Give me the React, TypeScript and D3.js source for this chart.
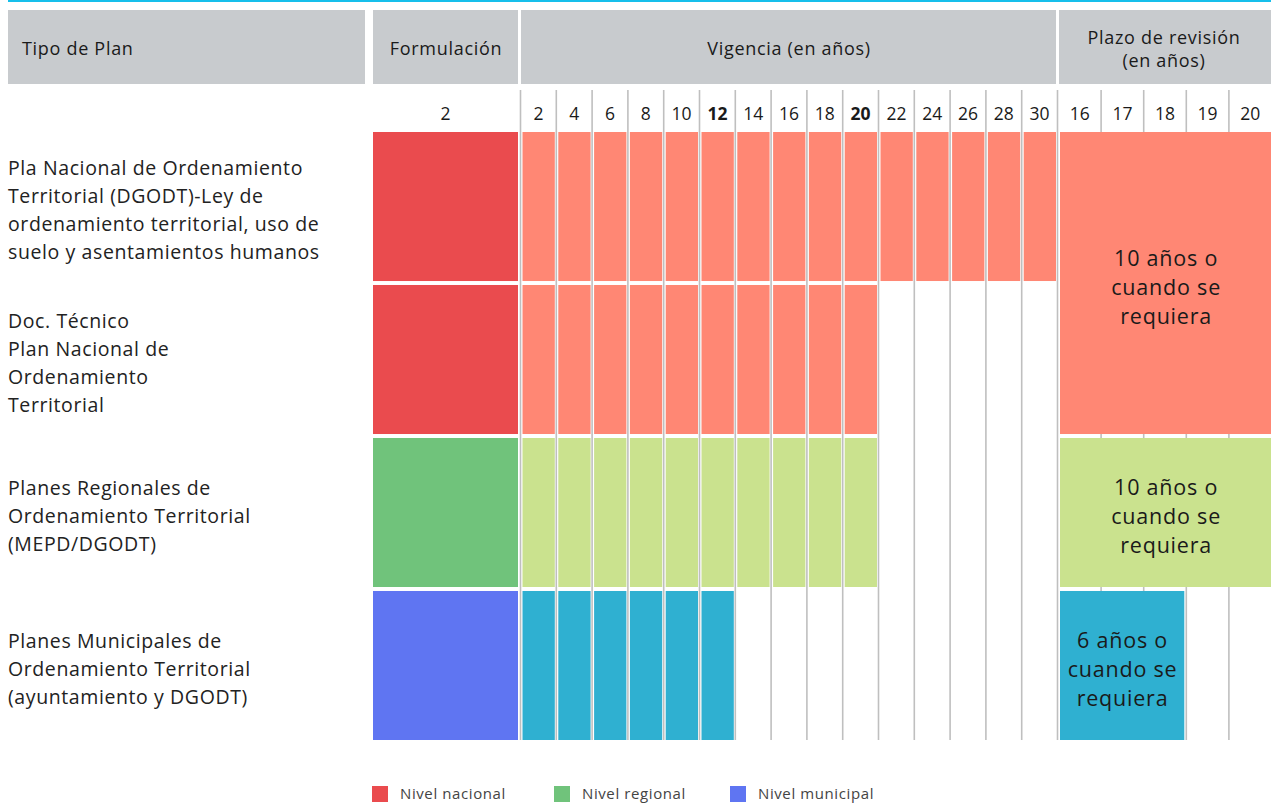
import React from 'react';
import * as d3 from 'd3';

// ---------- data ----------
const planLabels: string[][] = [
  ['Pla Nacional de Ordenamiento', 'Territorial (DGODT)-Ley de', 'ordenamiento territorial, uso de', 'suelo y asentamientos humanos'],
  ['Doc. Técnico', 'Plan Nacional de', 'Ordenamiento', 'Territorial'],
  ['Planes Regionales de', 'Ordenamiento Territorial', '(MEPD/DGODT)'],
  ['Planes Municipales de', 'Ordenamiento Territorial', '(ayuntamiento y DGODT)'],
];
const planLevels = ['nacional', 'nacional', 'regional', 'municipal'];
const formulacionYears = [2];
const vigenciaTicks = [2, 4, 6, 8, 10, 12, 14, 16, 18, 20, 22, 24, 26, 28, 30];
const vigenciaBold = [12, 20];
const vigenciaEnd = [30, 20, 20, 12];
const plazoTicks = [16, 17, 18, 19, 20];
const plazoGroups = [
  { rowFrom: 0, rowTo: 1, yearFrom: 16, yearTo: 20, level: 'nacional', text: ['10 años o', 'cuando se', 'requiera'] },
  { rowFrom: 2, rowTo: 2, yearFrom: 16, yearTo: 20, level: 'regional', text: ['10 años o', 'cuando se', 'requiera'] },
  { rowFrom: 3, rowTo: 3, yearFrom: 16, yearTo: 18, level: 'municipal', text: ['6 años o', 'cuando se', 'requiera'] },
];
const headers = ['Tipo de Plan', 'Formulación', 'Vigencia (en años)', 'Plazo de revisión|(en años)'];
const legendLevels = ['nacional', 'regional', 'municipal'];
const legendLabels = ['Nivel nacional', 'Nivel regional', 'Nivel municipal'];

// ---------- styles ----------
const strongColor: Record<string, string> = { nacional: '#ea4b4e', regional: '#70c37b', municipal: '#5f75f2' };
const lightColor: Record<string, string> = { nacional: '#ff8774', regional: '#cae28e', municipal: '#2fb0d1' };
const FONT = '"Open Sans", "Noto Sans", sans-serif';

export default function App() {
  const W = 1271, H = 810;
  const rows = d3.scaleBand<number>().domain(d3.range(planLabels.length)).range([132, 740]).paddingInner(0.026).paddingOuter(0);
  const xForm = d3.scaleBand<number>().domain(formulacionYears).range([373, 518]);
  const xVig = d3.scaleBand<number>().domain(vigenciaTicks).range([520.5, 1057.5]);
  const xPlz = d3.scaleBand<number>().domain(plazoTicks).range([1058.5, 1271.5]);
  const gridTop = 90, gridBottom = 740;
  const vLines = [...vigenciaTicks.map(t => xVig(t)!), 1057.5, ...plazoTicks.slice(1).map(t => xPlz(t)!)];

  const headerBoxes = [
    { x0: 8, x1: 365, anchor: 'start', tx: 22 },
    { x0: 373, x1: 518, anchor: 'middle', tx: 446 },
    { x0: 521, x1: 1056, anchor: 'middle', tx: 789 },
    { x0: 1059, x1: 1271, anchor: 'middle', tx: 1164 },
  ];

  return (
    <svg width={W} height={H} style={{ position: 'absolute', left: 0, top: 0, background: '#fff' }} fontFamily={FONT}>
      <rect x={8} y={0} width={W - 8} height={2} fill="#16bfeb" />
      {headerBoxes.map((b, i) => {
        const lines = headers[i].split('|');
        return (
          <g key={i}>
            <rect x={b.x0} y={10} width={b.x1 - b.x0} height={74} fill="#c8cbce" />
            {lines.map((l, j) => (
              <text key={j} x={b.tx} y={48 + (j - (lines.length - 1) / 2) * 23} textAnchor={b.anchor as any}
                dominantBaseline="central" fontSize={18} letterSpacing={0.7} fill="#1a1a1a">{l}</text>
            ))}
          </g>
        );
      })}
      {/* grid lines */}
      {vLines.map((x, i) => (
        <line key={i} x1={x} x2={x} y1={gridTop} y2={gridBottom} stroke="#bfbfbf" strokeWidth={1.6} />
      ))}
      {/* tick labels */}
      {formulacionYears.map(t => (
        <text key={'f' + t} x={xForm(t)! + xForm.bandwidth() / 2} y={113} textAnchor="middle" dominantBaseline="central" fontSize={17.5} fill="#1a1a1a">{t}</text>
      ))}
      {vigenciaTicks.map(t => (
        <text key={'v' + t} x={xVig(t)! + xVig.bandwidth() / 2} y={113} textAnchor="middle" dominantBaseline="central"
          fontSize={17.5} fontWeight={vigenciaBold.includes(t) ? 700 : 400} fill="#1a1a1a">{t}</text>
      ))}
      {plazoTicks.map(t => (
        <text key={'p' + t} x={xPlz(t)! + xPlz.bandwidth() / 2} y={113} textAnchor="middle" dominantBaseline="central" fontSize={17.5} fill="#1a1a1a">{t}</text>
      ))}
      {/* rows */}
      {planLabels.map((lines, r) => {
        const y0 = rows(r)!, h = rows.bandwidth();
        const lvl = planLevels[r];
        return (
          <g key={r}>
            {lines.map((l, j) => (
              <text key={j} x={8} y={y0 + h / 2 + 3 + (j - (lines.length - 1) / 2) * 28} dominantBaseline="central"
                fontSize={19.5} letterSpacing={0.6} fill="#222">{l}</text>
            ))}
            {formulacionYears.map(t => (
              <rect key={t} x={xForm(t)!} y={y0} width={xForm.bandwidth()} height={h} fill={strongColor[lvl]} />
            ))}
            {vigenciaTicks.filter(t => t <= vigenciaEnd[r]).map(t => (
              <rect key={t} x={xVig(t)! + 2} y={y0} width={xVig.bandwidth() - 3.5} height={h} fill={lightColor[lvl]} />
            ))}
          </g>
        );
      })}
      {/* plazo blocks */}
      {plazoGroups.map((g, i) => {
        const y0 = rows(g.rowFrom)!, y1 = rows(g.rowTo)! + rows.bandwidth();
        const x0 = xPlz(g.yearFrom)! + 1.5, x1 = xPlz(g.yearTo)! + xPlz.bandwidth() - (g.yearTo === plazoTicks[plazoTicks.length - 1] ? 0 : 2);
        const cx = (x0 + x1) / 2, cy = (y0 + y1) / 2 + 3;
        return (
          <g key={i}>
            <rect x={x0} y={y0} width={x1 - x0} height={y1 - y0} fill={lightColor[g.level]} />
            {g.text.map((l, j) => (
              <text key={j} x={cx + 0.4} y={cy + (j - 1) * 29} textAnchor="middle" dominantBaseline="central" fontSize={21.5} letterSpacing={0.8} fill="#1a1a1a">{l}</text>
            ))}
          </g>
        );
      })}
      {/* legend */}
      {legendLevels.map((lv, i) => {
        const lx = [372, 554, 730][i];
        return (
          <g key={lv}>
            <rect x={lx} y={786} width={16} height={16} fill={strongColor[lv]} />
            <text x={lx + 28} y={793} dominantBaseline="central" fontSize={15} letterSpacing={0.6} fill="#444">{legendLabels[i]}</text>
          </g>
        );
      })}
    </svg>
  );
}
